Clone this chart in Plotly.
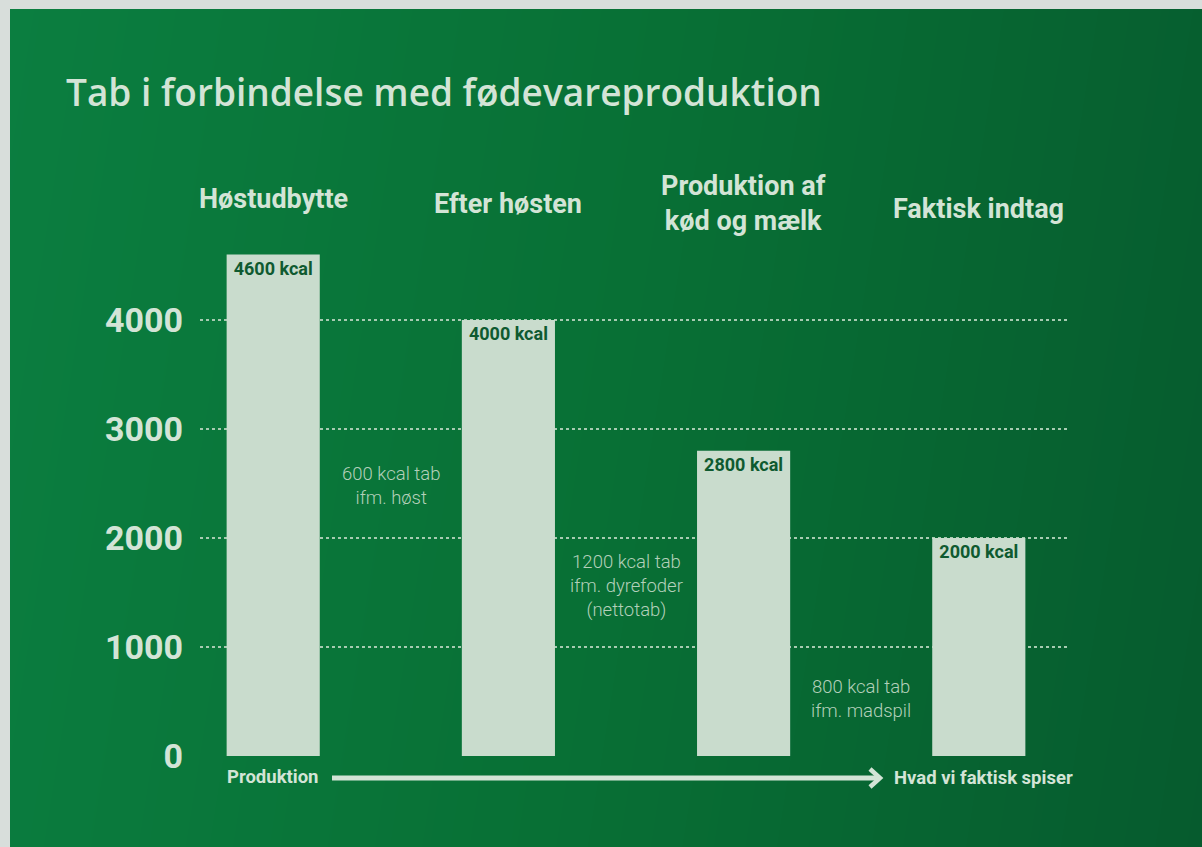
import plotly.graph_objects as go

# ---- data ----
stages = ["Høstudbytte", "Efter høsten", "Produktion af<br>kød og mælk", "Faktisk indtag"]
kcal = [4600, 4000, 2800, 2000]
loss_kcal = [600, 1200, 800]
loss_notes = ["ifm. høst", "ifm. dyrefoder<br>(nettotab)", "ifm. madspil"]
y_ticks = [0, 1000, 2000, 3000, 4000]
title_text = "Tab i forbindelse med fødevareproduktion"
axis_start = "Produktion"
axis_end = "Hvad vi faktisk spiser"

W, H = 1202, 847
def px(x):
    return x / W
def py(y):
    return 1 - y / H

LIGHT = "#d3e4d6"
BAR = "#c9dccd"
DARK = "#0f5a30"
LOSS = "#b3d0ba"

fig = go.Figure()

# background gradient (subplot xy, drawn first)
fig.add_trace(go.Heatmap(
    z=[[0.1, 0.55, 1.0], [0.0, 0.45, 0.9]],
    x=[0, 1, 2], y=[0, 1],
    zsmooth="best", showscale=False, hoverinfo="skip",
    colorscale=[[0, "#0b7e40"], [0.5, "#087035"], [1, "#065b2e"]],
    xaxis="x", yaxis="y",
))

# bars
fig.add_trace(go.Bar(
    x=list(range(len(stages))), y=kcal,
    text=[f"{v} kcal" for v in kcal],
    textposition="inside", insidetextanchor="end",
    textangle=0,
    textfont=dict(family="Roboto", size=18, color=DARK, weight=700),
    marker=dict(color=BAR, line=dict(width=0)),
    width=0.396,
    xaxis="x2", yaxis="y2",
    hoverinfo="skip",
))

x0_px, x1_px = 200, 1067
c0, step = 273.2, 235.2
xr = [(x0_px - c0) / step, (x1_px - c0) / step]

fig.update_layout(
    template="none",
    width=W, height=H, autosize=False,
    margin=dict(l=0, r=0, t=0, b=0, pad=0, autoexpand=False),
    paper_bgcolor="#d8dedb",
    plot_bgcolor="rgba(0,0,0,0)",
    showlegend=False,
    xaxis=dict(domain=[px(10), 1], range=[0, 2], visible=False, fixedrange=True, automargin=False),
    yaxis=dict(domain=[0, py(9)], range=[0, 1], visible=False, fixedrange=True, automargin=False),
    xaxis2=dict(domain=[px(x0_px), px(x1_px)], range=xr, anchor="y2",
                showgrid=False, zeroline=False, showticklabels=False,
                showline=False, ticks="", automargin=False),
    yaxis2=dict(domain=[py(756), py(211)], range=[0, 5000], anchor="x2",
                tickvals=y_ticks, ticktext=[str(t) for t in y_ticks],
                showgrid=True, gridcolor="#a7cbb1", griddash="dot", gridwidth=1.5,
                zeroline=False, showline=False, ticks="", automargin=False,
                ticklabelstandoff=16,
                tickfont=dict(family="Roboto", size=34, color=LIGHT, weight=700)),
)

ann = []
# title
ann.append(dict(text=title_text, xref="paper", yref="paper", x=px(64), y=py(92),
                xanchor="left", yanchor="middle", showarrow=False,
                font=dict(family="Open Sans", size=37, color=LIGHT, weight=600)))
# stage headers
header_y = [199, 204, 204, 209]
for i, (s, hy) in enumerate(zip(stages, header_y)):
    ann.append(dict(text=s, xref="x2", yref="paper", x=i, y=py(hy),
                    xanchor="center", yanchor="middle", showarrow=False,
                    font=dict(family="Roboto", size=27, color=LIGHT, weight=700)))
# losses
loss_y = [2480, 1560, 525]
for i, (l, n, ly) in enumerate(zip(loss_kcal, loss_notes, loss_y)):
    ann.append(dict(text=f"{l} kcal tab<br>{n}", xref="x2", yref="y2", x=i + 0.5, y=ly,
                    xanchor="center", yanchor="middle", showarrow=False,
                    font=dict(family="Roboto", size=18.5, color=LOSS, weight=300)))
# bottom axis labels
ann.append(dict(text=axis_start, xref="x2", yref="paper", x=0, y=py(777),
                xanchor="center", yanchor="middle", showarrow=False,
                font=dict(family="Roboto", size=18.5, color=LIGHT, weight=700)))
ann.append(dict(text=axis_end, xref="paper", yref="paper", x=px(892), y=py(778),
                xanchor="left", yanchor="middle", showarrow=False,
                font=dict(family="Roboto", size=18.5, color=LIGHT, weight=700)))
fig.update_layout(annotations=ann)

# arrow
fig.add_shape(type="line", xref="paper", yref="paper",
              x0=px(332), x1=px(878), y0=py(778), y1=py(778),
              line=dict(color=LIGHT, width=5))
fig.add_shape(type="path", xref="paper", yref="paper",
              path=f"M {px(870)} {py(769)} L {px(880)} {py(778)} L {px(870)} {py(787)}",
              line=dict(color=LIGHT, width=4.5))

fig.write_html("out.html", config={"displayModeBar": False},
               post_script="document.body.style.margin='0';")
